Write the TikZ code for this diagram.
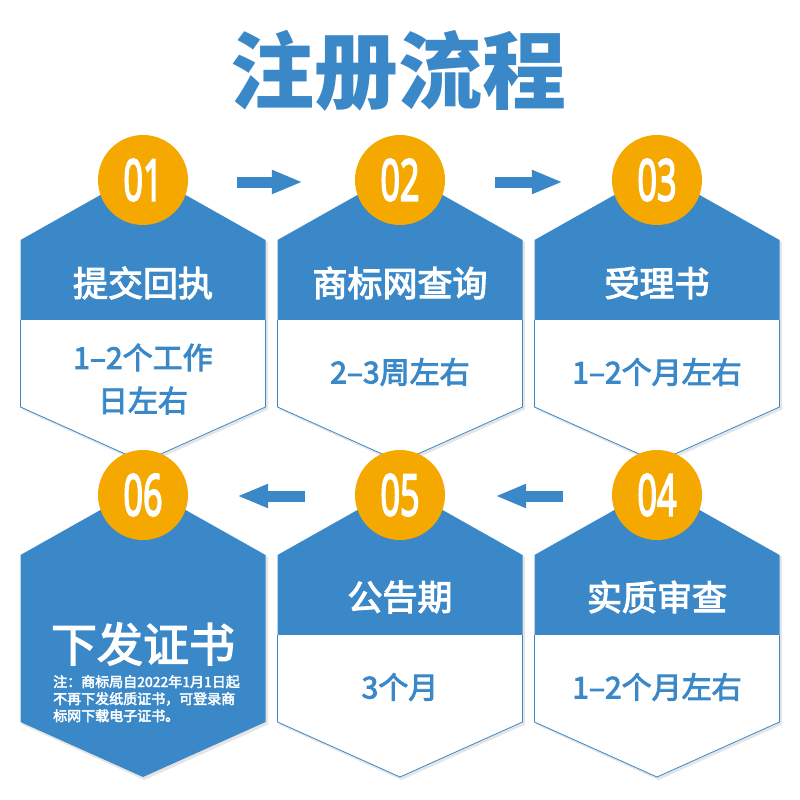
\documentclass[tikz,border=0pt]{standalone}
\usepackage{fontspec}
\setmainfont{Noto Sans CJK SC}
\newfontfamily\medfont[FakeBold=3]{Noto Sans CJK SC}
\newfontfamily\numfont[FakeBold=4]{Open Sans}
\usetikzlibrary{arrows.meta}
\definecolor{hblue}{RGB}{59,136,200}
\definecolor{horange}{RGB}{245,168,0}
\newcommand\cnum[1]{\raisebox{-3pt}{\scalebox{0.6}[1]{#1}}}
\begin{document}
\begin{tikzpicture}[x=1pt,y=-1pt,
  hexhead/.style={fill=hblue},
  hexbody/.style={fill=white,draw=hblue,line width=0.8pt},
  hexshadow/.style={fill=black,opacity=0.10},
  numcircle/.style={circle,fill=horange,minimum size=90pt,inner sep=0pt,text=white,font=\numfont\fontsize{57}{57}\selectfont},
  headtext/.style={text=white,font=\medfont\fontsize{35}{40}\selectfont,inner sep=0pt},
  bodytext/.style={text=hblue,font=\medfont\fontsize{30}{43}\selectfont,align=center,inner sep=0pt},
  bigtext/.style={text=white,font=\medfont\fontsize{46}{46}\selectfont,inner sep=0pt},
  notetext/.style={text=white,font=\medfont\fontsize{14}{17}\selectfont,align=left,inner sep=0pt},
  titletext/.style={text=hblue,font=\bfseries\fontsize{84}{84}\selectfont,inner sep=0pt},
  blockarrow/.style={draw=hblue,line width=11pt,-{Triangle[length=31pt,width=22pt]}}
]
\useasboundingbox (0,0) rectangle (800,800);
\fill[white] (0,0) rectangle (800,800);

% shadows
\foreach \cx/\oy in {143/0,400/0,657/0,143/315,400/315,657/315}{
  \fill[hexshadow] ({\cx-121},{242+\oy}) -- (\cx+1.5,{173+\oy}) -- ({\cx+125},{242+\oy}) -- ({\cx+125},{409.5+\oy}) -- (\cx+1.5,{465+\oy}) -- ({\cx-121},{409.5+\oy}) -- cycle;
}

% hexagons with white body
\foreach \cx/\oy in {143/0,400/0,657/0,657/315,400/315}{
  \fill[hexhead] ({\cx-122.5},{320+\oy}) -- ({\cx-122.5},{240+\oy}) -- (\cx,{171+\oy}) -- ({\cx+122.5},{240+\oy}) -- ({\cx+122.5},{320+\oy}) -- cycle;
  \filldraw[hexbody] ({\cx-122.5},{320+\oy}) -- ({\cx-122.5},{407+\oy}) -- (\cx,{462+\oy}) -- ({\cx+122.5},{407+\oy}) -- ({\cx+122.5},{320+\oy});
}
% final hexagon, all blue
\fill[hexhead] (20.5,555) -- (143,486) -- (265.5,555) -- (265.5,722) -- (143,777) -- (20.5,722) -- cycle;

% title
\node[titletext] (title) at (398,71) {注册流程};

% number circles
\node[numcircle] (c1) at (143,180) {\cnum{01}};
\node[numcircle] (c2) at (400,180) {\cnum{02}};
\node[numcircle] (c3) at (657,180) {\cnum{03}};
\node[numcircle] (c4) at (657,495) {\cnum{04}};
\node[numcircle] (c5) at (400,495) {\cnum{05}};
\node[numcircle] (c6) at (143,495) {\cnum{06}};

% texts
\node[headtext] (h1) at (143,283) {提交回执};
\node[bodytext] (b1) at (143,379) {1–2个工作\\日左右};
\node[headtext] (h2) at (400,283) {商标网查询};
\node[bodytext] (b2) at (400,372) {2–3周左右};
\node[headtext] (h3) at (657,283) {受理书};
\node[bodytext] (b3) at (657,372) {1–2个月左右};
\node[headtext] (h4) at (657,597) {实质审查};
\node[bodytext] (b4) at (657,687) {1–2个月左右};
\node[headtext] (h5) at (400,597) {公告期};
\node[bodytext] (b5) at (400,687) {3个月};
\node[bigtext] (h6) at (143,644) {下发证书};
\node[notetext,anchor=north west] (n6) at (53,675) {注：商标局自2022年1月1日起\\不再下发纸质证书，可登录商\\标网下载电子证书。};

% arrows
\draw[blockarrow] ([xshift=49pt,yshift=-2pt]c1.east) -- ([xshift=-52pt,yshift=-2pt]c2.west);
\draw[blockarrow] ([xshift=50pt,yshift=-2pt]c2.east) -- ([xshift=-49pt,yshift=-2pt]c3.west);
\draw[blockarrow] ([xshift=-49pt,yshift=-1pt]c4.west) -- ([xshift=50pt,yshift=-1pt]c5.east);
\draw[blockarrow] ([xshift=-50pt,yshift=-1pt]c5.west) -- ([xshift=49pt,yshift=-1pt]c6.east);
\end{tikzpicture}
\end{document}
